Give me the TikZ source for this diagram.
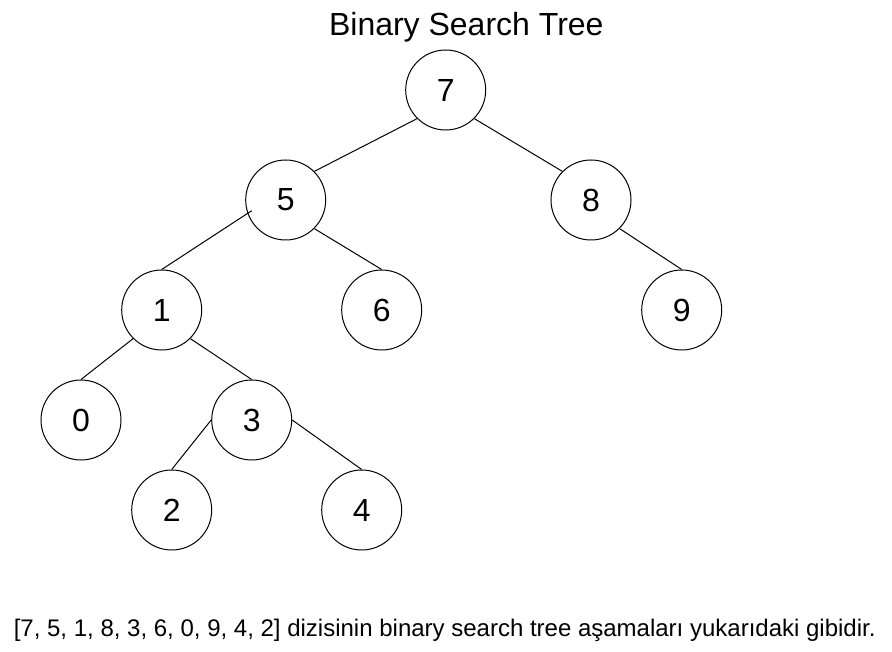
\documentclass[tikz,border=0pt]{standalone}
\usepackage{fontspec}
\setmainfont{Liberation Sans}

\begin{document}
\begin{tikzpicture}[x=1pt, y=-1pt, line width=1pt,
    vertex/.style={circle, draw, minimum size=80pt, inner sep=0pt, font=\fontsize{32}{38}\selectfont}]
    \useasboundingbox (0,0) rectangle (892,652);
    \node[anchor=base, font=\fontsize{32}{38}\selectfont] (title) at (466.3,35.5) {Binary Search Tree};
    \node[vertex] (n7) at (445.7,90) {7};
    \node[vertex] (n5) at (285.7,200) {5};
    \node[vertex] (n8) at (591,200) {8};
    \node[vertex] (n1) at (161.7,310) {1};
    \node[vertex] (n6) at (381.7,310) {6};
    \node[vertex] (n9) at (681.7,310) {9};
    \node[vertex] (n0) at (81,420) {0};
    \node[vertex] (n3) at (251.7,420) {3};
    \node[vertex] (n2) at (171.7,510) {2};
    \node[vertex] (n4) at (361.7,510) {4};
    \coordinate (n5tail) at (251.7,210.7);
    \draw (n7.south west) -- (n5.north east);
    \draw (n7.south east) -- (n8.north west);
    \draw (n5tail) -- (n1.north);
    \draw (n5.south east) -- (n6.north);
    \draw (n8.south east) -- (n9.north);
    \draw (n1.south west) -- (n0.north);
    \draw (n1.south east) -- (n3.north);
    \draw (n3.west) -- (n2.north);
    \draw (n3.east) -- (n4.north);
    \node[anchor=base, font=\fontsize{24}{28}\selectfont] (caption) at (444.7,636) {[7, 5, 1, 8, 3, 6, 0, 9, 4, 2] dizisinin binary search tree aşamaları yukarıdaki gibidir.};
\end{tikzpicture}
\end{document}
